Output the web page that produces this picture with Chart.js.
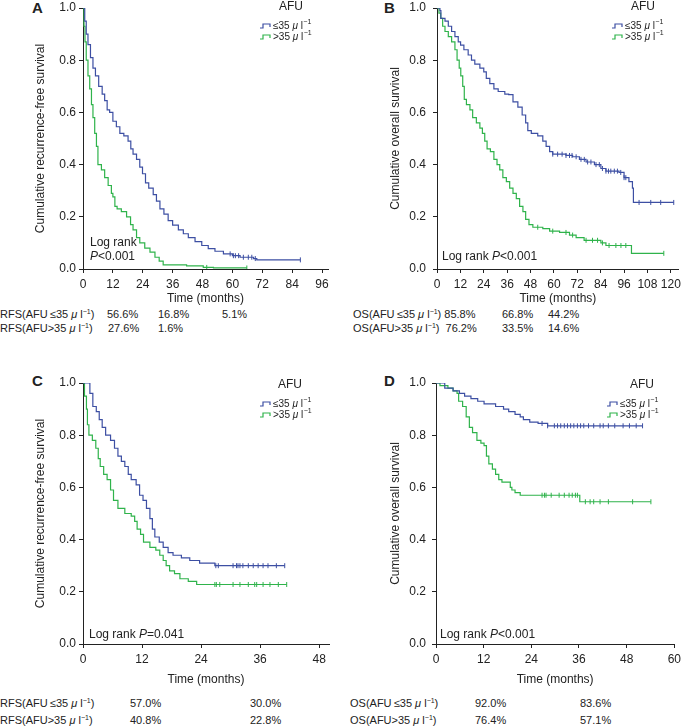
<!DOCTYPE html>
<html>
<head>
<meta charset="utf-8">
<script src="https://cdn.jsdelivr.net/npm/chart.js@4/dist/chart.umd.min.js"></script>
<style>
html, body { margin: 0; padding: 0; background: #fff; overflow: hidden; }
body { width: 685px; height: 728px; position: relative; font-family: "Liberation Sans", Arial, sans-serif; color: #222; }
.box { position: absolute; }
.t { position: absolute; font-size: 11px; line-height: 13px; white-space: nowrap; }
.t sup { font-size: 7px; line-height: 0; vertical-align: 4px; }
.lab { position: absolute; font-weight: bold; font-size: 15px; line-height: 15px; }
</style>
</head>
<body>
<div class="lab" style="left:32px;top:0px">A</div>
<div class="lab" style="left:384px;top:0px">B</div>
<div class="lab" style="left:32px;top:373px">C</div>
<div class="lab" style="left:384px;top:373px">D</div>

<div class="box" style="left:0;top:0"><canvas id="cA" width="340" height="306"></canvas></div>
<div class="box" style="left:340px;top:0"><canvas id="cB" width="345" height="306"></canvas></div>
<div class="box" style="left:0;top:375px"><canvas id="cC" width="340" height="312"></canvas></div>
<div class="box" style="left:340px;top:375px"><canvas id="cD" width="345" height="312"></canvas></div>

<div id="tables"></div>

<script>
// ---- data ----
// y ticks (all panels)
const yTicks = [0, 0.2, 0.4, 0.6, 0.8, 1.0];

// A: recurrence-free survival, all patients (months)
const ticksA = [0, 12, 24, 36, 48, 60, 72, 84, 96];
const aLowT = [0, 0.7, 1.3, 2.0, 3.0, 4.0, 5.0, 6.3, 7.7, 8.7, 9.7, 10.7, 12.0, 13.4, 14.8, 16.4, 18.1, 19.2, 20.1, 21.5, 22.8, 23.9, 25.1, 26.4, 28.2, 29.5, 30.9, 32.5, 34.2, 36.0, 38.3, 40.3, 42.3, 45.0, 47.7, 50.3, 53.0, 56.4, 60.0, 63.1, 68.5, 69.8, 87.3];
const aLowS = [1.0, 0.95, 0.90, 0.86, 0.81, 0.77, 0.74, 0.70, 0.67, 0.645, 0.61, 0.60, 0.566, 0.545, 0.52, 0.51, 0.49, 0.46, 0.44, 0.42, 0.39, 0.365, 0.33, 0.31, 0.285, 0.26, 0.23, 0.21, 0.185, 0.168, 0.15, 0.135, 0.12, 0.105, 0.09, 0.078, 0.068, 0.058, 0.051, 0.045, 0.04, 0.035, 0.035];
const aLowCens = [59.1, 60.4, 61.2, 62.5, 64.4, 66.4, 67.8, 69.2, 87.3];
const aHighT = [0, 0.4, 0.8, 1.3, 2.0, 2.7, 3.4, 4.0, 4.7, 5.4, 6.0, 7.4, 8.7, 10.1, 11.4, 12.0, 12.8, 13.7, 15.4, 17.5, 19.1, 20.1, 21.5, 22.8, 24.8, 26.9, 28.9, 30.6, 32.2, 41.6, 48.3, 52.4, 65.8];
const aHighS = [1.0, 0.93, 0.87, 0.80, 0.74, 0.69, 0.63, 0.58, 0.52, 0.47, 0.40, 0.38, 0.35, 0.32, 0.29, 0.276, 0.24, 0.23, 0.22, 0.20, 0.17, 0.15, 0.12, 0.10, 0.08, 0.065, 0.045, 0.03, 0.016, 0.012, 0.006, 0.004, 0.004];
const aHighCens = [49.7, 65.8];

// B: overall survival, all patients
const ticksB = [0, 12, 24, 36, 48, 60, 72, 84, 96, 108, 120];
const bLowT = [0, 1.5, 2.0, 4.1, 5.8, 7.5, 9.2, 10.9, 12.1, 13.8, 16.0, 17.7, 19.4, 22.0, 24.0, 25.3, 27.1, 29.2, 31.4, 34.8, 36.8, 39.0, 41.5, 43.7, 45.5, 46.6, 48.4, 51.7, 54.3, 56.0, 57.8, 59.4, 66.2, 69.6, 73.1, 76.5, 80.8, 84.1, 86.7, 93.4, 96.0, 98.5, 100.3, 100.8, 121.5];
const bLowS = [1.0, 0.99, 0.96, 0.95, 0.93, 0.91, 0.89, 0.87, 0.858, 0.84, 0.82, 0.80, 0.785, 0.77, 0.755, 0.73, 0.71, 0.69, 0.68, 0.67, 0.668, 0.64, 0.62, 0.59, 0.56, 0.53, 0.52, 0.51, 0.49, 0.47, 0.45, 0.44, 0.435, 0.43, 0.42, 0.41, 0.40, 0.385, 0.375, 0.37, 0.35, 0.335, 0.31, 0.255, 0.255];
const bLowCens = [59.4, 61.9, 64.2, 66.2, 68.0, 69.3, 71.4, 73.9, 75.6, 77.3, 79.0, 81.6, 83.3, 84.9, 86.7, 88.0, 89.2, 91.0, 92.6, 94.3, 96.0, 96.9, 103.7, 109.7, 114.8, 121.5];
const bHighT = [0, 1.0, 1.9, 2.9, 4.1, 5.8, 7.5, 9.2, 10.3, 11.4, 12.2, 13.2, 14.0, 15.1, 16.9, 18.3, 20.2, 22.0, 23.3, 24.5, 25.7, 27.4, 29.2, 30.8, 32.2, 33.8, 35.6, 37.3, 39.0, 40.7, 42.4, 44.1, 45.5, 47.2, 49.2, 54.3, 57.8, 62.9, 68.0, 71.4, 75.5, 84.1, 86.7, 99.8, 116.4];
const bHighS = [1.0, 0.98, 0.96, 0.93, 0.91, 0.89, 0.87, 0.84, 0.80, 0.77, 0.74, 0.70, 0.65, 0.63, 0.61, 0.58, 0.56, 0.54, 0.52, 0.49, 0.46, 0.45, 0.42, 0.40, 0.38, 0.35, 0.335, 0.31, 0.29, 0.27, 0.24, 0.22, 0.19, 0.17, 0.16, 0.155, 0.145, 0.14, 0.13, 0.12, 0.11, 0.10, 0.09, 0.06, 0.06];
const bHighCens = [51.7, 59.4, 66.2, 69.6, 76.5, 79.8, 82.4, 84.9, 88.3, 91.8, 94.4, 96.9, 116.4];

// C: recurrence-free survival, subgroup
const ticksC = [0, 12, 24, 36, 48];
const cLowT = [0, 1.4, 2.0, 2.7, 3.3, 3.9, 4.6, 5.6, 6.4, 7.1, 7.8, 8.5, 9.2, 9.8, 10.8, 11.5, 12.2, 12.9, 13.6, 14.1, 14.6, 15.5, 16.3, 17.3, 18.3, 20.0, 21.7, 23.7, 26.8, 41.0];
const cLowS = [1.0, 0.96, 0.91, 0.89, 0.86, 0.83, 0.80, 0.78, 0.75, 0.72, 0.70, 0.68, 0.65, 0.63, 0.61, 0.57, 0.55, 0.52, 0.48, 0.44, 0.41, 0.39, 0.37, 0.35, 0.34, 0.33, 0.32, 0.31, 0.30, 0.30];
const cLowCens = [27.0, 27.5, 30.5, 31.2, 31.5, 31.9, 32.5, 33.6, 34.6, 35.6, 36.6, 37.6, 39.3, 41.0];
const cHighT = [0, 0.3, 0.7, 0.9, 1.2, 1.9, 2.6, 3.1, 3.5, 4.2, 4.9, 5.6, 6.2, 7.1, 8.5, 9.8, 10.5, 11.0, 11.7, 12.3, 13.6, 14.8, 15.6, 16.3, 16.9, 17.6, 18.6, 19.7, 21.4, 23.1, 41.4];
const cHighS = [1.0, 0.95, 0.90, 0.84, 0.80, 0.78, 0.75, 0.71, 0.68, 0.65, 0.63, 0.59, 0.55, 0.52, 0.50, 0.49, 0.47, 0.44, 0.42, 0.39, 0.37, 0.36, 0.34, 0.32, 0.30, 0.28, 0.27, 0.25, 0.24, 0.228, 0.228];
const cHighCens = [26.8, 27.1, 27.8, 30.5, 31.9, 33.6, 34.9, 35.3, 36.6, 38.0, 39.7, 41.4];

// D: overall survival, subgroup
const ticksD = [0, 12, 24, 36, 48, 60];
const dLowT = [0, 2.2, 4.3, 5.9, 7.2, 8.8, 10.5, 12.1, 15.0, 17.0, 18.3, 19.9, 21.2, 22.0, 23.6, 25.7, 28.1, 52.0];
const dLowS = [1.0, 0.98, 0.97, 0.96, 0.95, 0.94, 0.93, 0.92, 0.91, 0.90, 0.89, 0.88, 0.87, 0.86, 0.85, 0.845, 0.836, 0.836];
const dLowCens = [26.7, 28.1, 29.8, 30.6, 31.4, 32.3, 33.1, 33.9, 34.7, 35.6, 36.4, 37.2, 38.4, 39.7, 41.3, 42.1, 43.4, 45.0, 47.1, 48.7, 50.4, 52.0];
const dHighT = [0, 1.0, 3.0, 4.3, 5.3, 5.7, 6.7, 7.6, 8.4, 9.2, 10.3, 11.3, 12.1, 12.7, 13.3, 14.2, 15.0, 15.8, 16.6, 18.7, 19.1, 19.9, 21.2, 36.2, 54.1];
const dHighS = [1.0, 0.99, 0.98, 0.97, 0.96, 0.93, 0.91, 0.87, 0.83, 0.81, 0.78, 0.77, 0.76, 0.72, 0.69, 0.67, 0.65, 0.63, 0.62, 0.60, 0.59, 0.58, 0.57, 0.545, 0.545];
const dHighCens = [26.7, 27.3, 27.7, 29.0, 31.0, 32.3, 33.5, 34.3, 35.1, 35.6, 37.6, 38.8, 39.7, 41.3, 43.4, 49.5, 54.1];

// rates table under each panel (at: null = right after the label)
const tableTop = [
  { x: 0, y: 308, pre: 'RFS(AFU', op: '≤', vals: ['56.6%', '16.8%', '5.1%'], at: [107, 158, 222] },
  { x: 0, y: 322, pre: 'RFS(AFU', op: '>', vals: ['27.6%', '1.6%'], at: [108, 158] },
  { x: 353, y: 308, pre: 'OS(AFU', op: '≤', vals: ['85.8%', '66.8%', '44.2%'], at: [null, 502, 548] },
  { x: 353, y: 322, pre: 'OS(AFU', op: '>', vals: ['76.2%', '33.5%', '14.6%'], at: [null, 502, 548] }
];
const tableBottom = [
  { x: 0, y: 697, pre: 'RFS(AFU', op: '≤', vals: ['57.0%', '30.0%'], at: [130, 250] },
  { x: 0, y: 714, pre: 'RFS(AFU', op: '>', vals: ['40.8%', '22.8%'], at: [130, 250] },
  { x: 350, y: 697, pre: 'OS(AFU', op: '≤', vals: ['92.0%', '83.6%'], at: [475, 580] },
  { x: 350, y: 714, pre: 'OS(AFU', op: '>', vals: ['76.4%', '57.1%'], at: [475, 580] }
];

const BLUE = '#3d4fa3';
const GREEN = '#2fb34b';
const INK = '#222';
const FONT = '"Liberation Sans", Arial, sans-serif';

Chart.defaults.font.family = FONT;
Chart.defaults.font.size = 12;
Chart.defaults.color = INK;

function survAt(times, surv, t) {
  let s = surv[0];
  for (let i = 0; i < times.length; i++) if (times[i] <= t) s = surv[i];
  return s;
}

function curve(times, surv, color) {
  return {
    data: times.map((t, i) => ({ x: t, y: surv[i] })),
    borderColor: color, borderWidth: 1.2, stepped: true,
    pointRadius: 0, fill: false
  };
}

function censors(cens, times, surv, color) {
  return {
    data: cens.map(t => ({ x: t, y: survAt(times, surv, t) })),
    showLine: false, pointStyle: 'line', rotation: 90,
    pointRadius: 2.5, borderColor: color, borderWidth: 1
  };
}

// legend, log rank text
const decor = {
  id: 'decor',
  afterDraw(chart, args, o) {
    const ctx = chart.ctx;
    ctx.save();
    ctx.textBaseline = 'middle';
    ctx.fillStyle = INK;
    ctx.font = '12px ' + FONT;
    ctx.textAlign = 'center';
    ctx.fillText('AFU', o.legX, o.legY);
    ctx.textAlign = 'left';
    [['≤35', BLUE], ['>35', GREEN]].forEach(([txt, col], i) => {
      const y = o.legY + 19 + i * 11;
      const x0 = o.symX;
      ctx.strokeStyle = col;
      ctx.lineWidth = 1.2;
      ctx.beginPath();
      ctx.moveTo(x0, y + 2);
      ctx.lineTo(x0 + 3, y + 2);
      ctx.lineTo(x0 + 3, y - 2);
      ctx.lineTo(x0 + 10, y - 2);
      ctx.lineTo(x0 + 10, y + 1);
      ctx.stroke();
      let x = o.symX + 13;
      ctx.fillStyle = INK;
      ctx.font = '10px ' + FONT;
      ctx.fillText(txt, x, y); x += ctx.measureText(txt + ' ').width;
      ctx.font = 'italic 10px ' + FONT;
      ctx.fillText('μ', x, y); x += ctx.measureText('μ ').width;
      ctx.font = '10px ' + FONT;
      ctx.fillText('l', x, y); x += ctx.measureText('l').width + 0.5;
      ctx.font = '7px ' + FONT;
      ctx.fillText('−1', x, y - 4);
    });
    o.logRank.forEach(line => {
      let x = o.lrX;
      line.parts.forEach(([s, it]) => {
        ctx.font = (it ? 'italic ' : '') + '12px ' + FONT;
        ctx.fillText(s, x, line.y);
        x += ctx.measureText(s).width;
      });
    });
    ctx.restore();
  }
};

function makePanel(id, p) {
  new Chart(document.getElementById(id), {
    type: 'line',
    data: {
      datasets: [
        curve(p.lowT, p.lowS, BLUE),
        curve(p.highT, p.highS, GREEN),
        censors(p.lowC, p.lowT, p.lowS, BLUE),
        censors(p.highC, p.highT, p.highS, GREEN)
      ]
    },
    options: {
      responsive: false,
      animation: false,
      layout: { padding: { top: 8, right: p.padRight, left: 0, bottom: 0 } },
      scales: {
        x: {
          type: 'linear', min: 0, max: p.xMax,
          afterBuildTicks: s => { s.ticks = p.xTicks.map(v => ({ value: v })); },
          afterFit: s => { s.height = p.xHeight; },
          ticks: { color: INK, padding: 4, maxRotation: 0 },
          grid: { drawOnChartArea: false, drawTicks: true, tickLength: 4, tickColor: INK },
          border: { display: true, color: INK, width: 1 },
          title: { display: true, text: 'Time (months)', color: INK, padding: { top: 0, bottom: 0 } }
        },
        y: {
          min: 0, max: 1,
          afterBuildTicks: s => { s.ticks = yTicks.map(v => ({ value: v })); },
          afterFit: s => { s.width = p.yWidth; s.paddingTop = 0; s.paddingBottom = 0; },
          ticks: { color: INK, padding: p.yPad, callback: v => v.toFixed(1) },
          grid: { drawOnChartArea: false, drawTicks: true, tickLength: 4, tickColor: INK },
          border: { display: true, color: INK, width: 1 },
          title: { display: true, text: p.yTitle, color: INK, padding: { top: p.yTitlePad, bottom: 0 } }
        }
      },
      plugins: {
        legend: { display: false },
        tooltip: { enabled: false },
        decor: p.decor
      }
    },
    plugins: [decor]
  });
}

makePanel('cA', {
  lowT: aLowT, lowS: aLowS, lowC: aLowCens, highT: aHighT, highS: aHighS, highC: aHighCens,
  xTicks: ticksA, xMax: 98.4, padRight: 12, xHeight: 37, yWidth: 83, yPad: 3, yTitlePad: 33,
  yTitle: 'Cumulative recurrence-free survival',
  decor: { legX: 291, legY: 7, symX: 260, lrX: 90, logRank: [
    { y: 243, parts: [['Log rank', false]] },
    { y: 257, parts: [['P', true], ['<0.001', false]] }
  ] }
});
makePanel('cB', {
  lowT: bLowT, lowS: bLowS, lowC: bLowCens, highT: bHighT, highS: bHighS, highC: bHighCens,
  xTicks: ticksB, xMax: 124.1, padRight: 5, xHeight: 37, yWidth: 97, yPad: 7, yTitlePad: 48,
  yTitle: 'Cumulative overall survival',
  decor: { legX: 303, legY: 7, symX: 272, lrX: 102, logRank: [
    { y: 257, parts: [['Log rank ', false], ['P', true], ['<0.001', false]] }
  ] }
});
makePanel('cC', {
  lowT: cLowT, lowS: cLowS, lowC: cLowCens, highT: cHighT, highS: cHighS, highC: cHighCens,
  xTicks: ticksC, xMax: 50, padRight: 11, xHeight: 43, yWidth: 83, yPad: 3, yTitlePad: 33,
  yTitle: 'Cumulative recurrence-free survival',
  decor: { legX: 290, legY: 10, symX: 260, lrX: 89, logRank: [
    { y: 260, parts: [['Log rank ', false], ['P', true], ['=0.041', false]] }
  ] }
});
makePanel('cD', {
  lowT: dLowT, lowS: dLowS, lowC: dLowCens, highT: dHighT, highS: dHighS, highC: dHighCens,
  xTicks: ticksD, xMax: 60, padRight: 6, xHeight: 43, yWidth: 96, yPad: 6, yTitlePad: 48,
  yTitle: 'Cumulative overall survival',
  decor: { legX: 302, legY: 10, symX: 267, lrX: 100, logRank: [
    { y: 260, parts: [['Log rank ', false], ['P', true], ['<0.001', false]] }
  ] }
});

// tables of survival rates
const host = document.getElementById('tables');
tableTop.concat(tableBottom).forEach(r => {
  const lab = document.createElement('div');
  lab.className = 't';
  lab.style.left = r.x + 'px';
  lab.style.top = r.y + 'px';
  let html = r.pre + (r.op === '≤' ? '\u2009≤' : '>') + '35 <i>μ</i> l<sup>−1</sup>)';
  if (r.at[0] === null) html += (r.op === '≤' ? ' ' : '&nbsp;&nbsp;') + r.vals[0];
  lab.innerHTML = html;
  host.appendChild(lab);
  r.vals.forEach((v, i) => {
    if (r.at[i] === null) return;
    const d = document.createElement('div');
    d.className = 't';
    d.style.left = r.at[i] + 'px';
    d.style.top = r.y + 'px';
    d.textContent = v;
    host.appendChild(d);
  });
});
</script>
</body>
</html>
